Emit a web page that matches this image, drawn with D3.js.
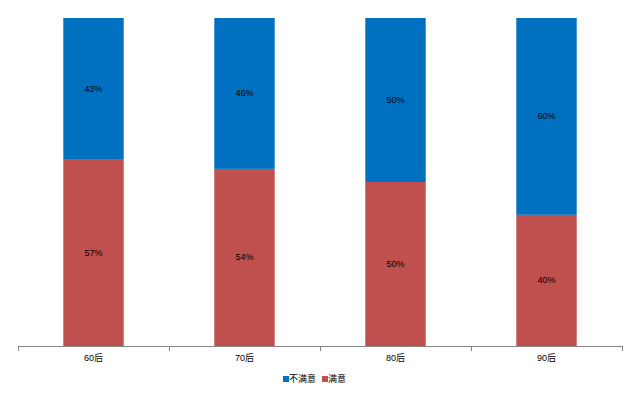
<!DOCTYPE html>
<html>
<head>
<meta charset="utf-8">
<script src="https://cdn.jsdelivr.net/npm/d3@7"></script>
<style>
  body { margin: 0; background: #fff; }
  text { font-family: "Liberation Sans", "Noto Sans CJK SC", sans-serif; }
</style>
</head>
<body>
<svg id="chart" width="640" height="396"></svg>
<script>
// chart data
var categories = ['60后', '70后', '80后', '90后'];
var dissatisfied = [43, 46, 50, 60];   // 不满意
var satisfied = [57, 54, 50, 40];      // 满意
var seriesNames = ['不满意', '满意'];
var seriesColors = ['#0070C0', '#C0504D'];

var svg = d3.select('#chart');
var plotLeft = 18, plotRight = 622, plotTop = 18, plotBottom = 346;

var x = d3.scaleBand().domain(categories).range([plotLeft, plotRight])
    .paddingInner(0.6).paddingOuter(0.3);
var y = d3.scaleLinear().domain([0, 100]).range([plotBottom, plotTop]);

// stack: satisfied at bottom, dissatisfied on top
var rows = categories.map(function(c, i) {
    return { cat: c, s: satisfied[i], d: dissatisfied[i] };
});

var g = svg.append('g');
rows.forEach(function(r) {
    var segs = [
        { y0: 0, y1: r.s, v: r.s, color: seriesColors[1] },
        { y0: r.s, y1: r.s + r.d, v: r.d, color: seriesColors[0] }
    ];
    segs.forEach(function(s) {
        g.append('rect')
            .attr('x', x(r.cat))
            .attr('width', x.bandwidth())
            .attr('y', y(s.y1))
            .attr('height', y(s.y0) - y(s.y1))
            .attr('fill', s.color);
        g.append('text')
            .attr('x', x(r.cat) + x.bandwidth() / 2)
            .attr('y', (y(s.y0) + y(s.y1)) / 2 + 3)
            .attr('text-anchor', 'middle')
            .attr('font-size', 9)
            .attr('fill', '#000')
            .text(s.v + '%');
    });
});

// category axis
var axisG = svg.append('g');
axisG.append('line')
    .attr('x1', plotLeft).attr('x2', plotRight)
    .attr('y1', plotBottom + 0.5).attr('y2', plotBottom + 0.5)
    .attr('stroke', '#868686');
var bounds = d3.range(categories.length + 1).map(function(i) {
    return plotLeft + i * (plotRight - plotLeft) / categories.length;
});
bounds.forEach(function(b) {
    axisG.append('line')
        .attr('x1', Math.round(b) + 0.5).attr('x2', Math.round(b) + 0.5)
        .attr('y1', plotBottom).attr('y2', plotBottom + 5)
        .attr('stroke', '#868686');
});
categories.forEach(function(c) {
    axisG.append('text')
        .attr('x', x(c) + x.bandwidth() / 2)
        .attr('y', 361)
        .attr('text-anchor', 'middle')
        .attr('font-size', 9)
        .attr('fill', '#000')
        .text(c);
});

// legend
var legend = svg.append('g');
var lx = [283, 322];
seriesNames.forEach(function(n, i) {
    legend.append('rect')
        .attr('x', lx[i]).attr('y', 376)
        .attr('width', 6).attr('height', 6)
        .attr('fill', seriesColors[i]);
    legend.append('text')
        .attr('x', lx[i] + 6).attr('y', 382)
        .attr('font-size', 9)
        .attr('fill', '#000')
        .text(n);
});
</script>
</body>
</html>
